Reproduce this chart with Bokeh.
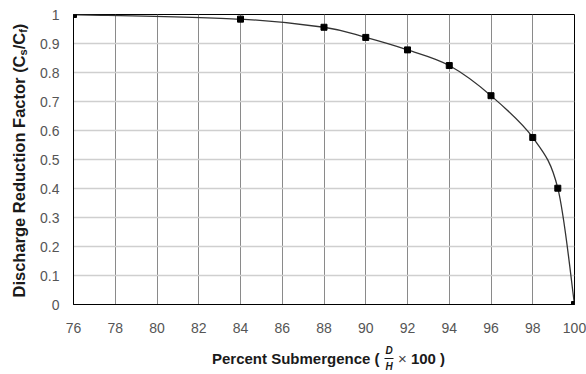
import math
from bokeh.plotting import figure
from bokeh.models import Label, Arrow, Range1d, FixedTicker
from bokeh.layouts import row, column
from bokeh.embed import file_html
from bokeh.resources import INLINE

# ---- data ----
submergence = [76, 84, 88, 90, 92, 94, 96, 98, 99.2, 100]
reduction = [1.0, 0.984, 0.956, 0.921, 0.878, 0.824, 0.72, 0.576, 0.401, 0.0]
x_ticks = [76, 78, 80, 82, 84, 86, 88, 90, 92, 94, 96, 98, 100]
y_ticks = [0, 0.1, 0.2, 0.3, 0.4, 0.5, 0.6, 0.7, 0.8, 0.9, 1]
y_tick_labels = ["0", "0.1", "0.2", "0.3", "0.4", "0.5", "0.6", "0.7", "0.8", "0.9", "1"]

W, H = 586, 374
L, R, T, B = 73, 574, 14, 304
LW = 30          # width of the strip holding the vertical title
BH = 34          # height of the strip holding the horizontal title
X0, X1, Y0, Y1 = 76, 100, 0, 1
FONT = "Liberation Sans"

# ---------------- main chart ----------------
MW, MH = W - LW, H - BH
p = figure(width=MW, height=MH, output_backend="svg", toolbar_location=None,
           x_range=Range1d(X0, X1), y_range=Range1d(Y0, Y1),
           min_border_left=L - LW, min_border_right=W - R,
           min_border_top=T, min_border_bottom=MH - B)
p.background_fill_color = "white"
p.border_fill_color = "white"
p.outline_line_color = "black"
p.outline_line_width = 1

p.xaxis.ticker = FixedTicker(ticks=x_ticks)
p.yaxis.ticker = FixedTicker(ticks=y_ticks)
p.yaxis.major_label_overrides = {v: s for v, s in zip(y_ticks, y_tick_labels)}
for ax in (p.xaxis, p.yaxis):
    ax.axis_line_color = "black"
    ax.major_tick_line_color = None
    ax.minor_tick_line_color = None
    ax.major_label_text_font = FONT
    ax.major_label_text_font_size = "14px"
    ax.major_label_text_color = "#555555"
p.xaxis.major_label_standoff = 12
p.yaxis.major_label_standoff = 8

p.xgrid.ticker = FixedTicker(ticks=x_ticks)
p.ygrid.ticker = FixedTicker(ticks=y_ticks)
p.xgrid.grid_line_color = "#8a8a8a"
p.xgrid.grid_line_width = 1
p.ygrid.grid_line_color = "#cfcfcf"
p.ygrid.grid_line_width = 1.6

# smoothed line (Catmull-Rom style bezier through the data points)
n = len(submergence)
x0s, y0s, x1s, y1s, cx0s, cy0s, cx1s, cy1s = [], [], [], [], [], [], [], []
for i in range(n - 1):
    a = max(i - 1, 0)
    d = min(i + 2, n - 1)
    px0, py0 = submergence[a], reduction[a]
    px1, py1 = submergence[i], reduction[i]
    px2, py2 = submergence[i + 1], reduction[i + 1]
    px3, py3 = submergence[d], reduction[d]
    x0s.append(px1); y0s.append(py1)
    x1s.append(px2); y1s.append(py2)
    cx0s.append(px1 + (px2 - px0) / 6.0); cy0s.append(py1 + (py2 - py0) / 6.0)
    cx1s.append(px2 - (px3 - px1) / 6.0); cy1s.append(py2 - (py3 - py1) / 6.0)
p.bezier(x0=x0s, y0=y0s, x1=x1s, y1=y1s, cx0=cx0s, cy0=cy0s, cx1=cx1s, cy1=cy1s,
         line_color="#333333", line_width=1.3)
p.scatter(submergence, reduction, marker="square", size=6,
          fill_color="black", line_color="black")


# ---------------- title strips ----------------
# Each strip's frame is placed exactly where the main frame is along the shared
# direction; its ranges are canvas pixel coordinates (x from left, y from bottom).
def strip(w, h, bl, br, bt, bb, xr, yr):
    f = figure(width=w, height=h, output_backend="svg", toolbar_location=None,
               x_range=Range1d(*xr), y_range=Range1d(*yr),
               x_axis_type=None, y_axis_type=None,
               min_border_left=bl, min_border_right=br,
               min_border_top=bt, min_border_bottom=bb)
    f.outline_line_color = None
    f.background_fill_color = "white"
    f.border_fill_color = "white"
    f.grid.visible = False
    return f


def lab(f, text, x, y, size, angle=0.0, align="left", style="bold", color="#1a1a1a"):
    # x, y given in canvas pixels measured from the top-left corner
    f.add_layout(Label(x=x, y=H - y, text=text, angle=angle,
                       text_align=align, text_baseline="middle",
                       text_font=FONT, text_font_size=f"{size}px",
                       text_font_style=style, text_color=color))


# vertical title strip: frame spans canvas y 14..304, x 0..30
ly = strip(LW, H, 0, 0, T, H - B, (0, LW), (H - B, H - T))
ys = 16.5
ss = 11
ycx = 18.5
cur = 297.0
A = math.pi / 2
lab(ly, "Discharge Reduction Factor (C", ycx, cur, ys, angle=A)
cur -= 14669 * ys / 1000.0
lab(ly, "s", ycx + 3.5, cur, ss, angle=A)
cur -= 556 * ss / 1000.0
lab(ly, "/C", ycx, cur, ys, angle=A)
cur -= 1000 * ys / 1000.0
lab(ly, "f", ycx + 3.5, cur, ss, angle=A)
cur -= 333 * ss / 1000.0
lab(ly, ")", ycx, cur, ys, angle=A)

# horizontal title strip: frame spans canvas x 73..574, y 340..374
bx = strip(MW, BH, L - LW, W - R, 0, 0, (L, R), (0, BH))
xs = 15
xcy = 357.5
lab(bx, "Percent Submergence (", 211.5, xcy, xs)
lab(bx, "D", 388.5, 350, 10, align="center", style="bold italic")
lab(bx, "H", 388.5, 366, 10, align="center", style="bold italic")
bx.add_layout(Arrow(end=None, x_start=384, y_start=H - 358, x_end=393,
                    y_end=H - 358, line_color="#1a1a1a", line_width=1))
lab(bx, "\u00d7", 397.5, xcy, xs, style="normal", color="#444444")
lab(bx, "100 )", 397.5 + (584 + 278) * xs / 1000.0, xcy, xs)

layout = row(ly, column(p, bx, spacing=0), spacing=0)
open("out.html", "w").write(file_html(layout, INLINE))
